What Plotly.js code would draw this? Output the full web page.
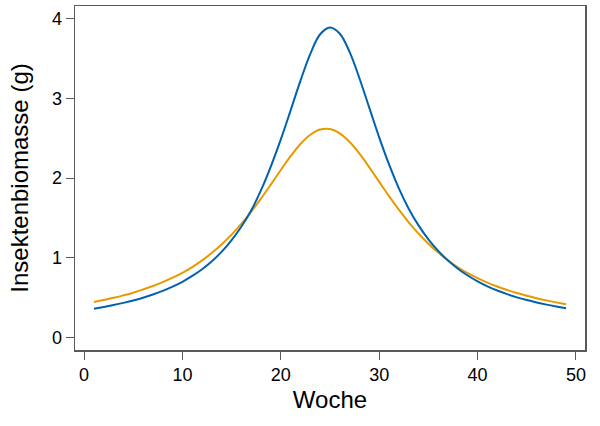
<!DOCTYPE html>
<html>
<head>
<meta charset="utf-8">
<script src="https://cdn.plot.ly/plotly-3.0.1.min.js"></script>
<style>
html,body{margin:0;padding:0;background:#fff;}
#chart{width:600px;height:426px;}
</style>
</head>
<body>
<div id="chart"></div>
<script>
const weeks = [1,2,3,4,5,6,7,8,9,10,11,12,13,14,15,16,17,18,19,20,21,22,23,24,25,26,27,28,29,30,31,32,33,34,35,36,37,38,39,40,41,42,43,44,45,46,47,48,49];

const blueBiomass = [0.358,0.381,0.405,0.432,0.462,0.497,0.537,0.583,0.636,0.697,0.770,0.855,0.955,1.075,1.220,1.390,1.595,1.850,2.150,2.485,2.850,3.222,3.560,3.805,3.890,3.812,3.580,3.250,2.880,2.510,2.170,1.870,1.615,1.405,1.230,1.085,0.963,0.861,0.776,0.702,0.640,0.587,0.541,0.501,0.467,0.437,0.410,0.386,0.364];

const orangeBiomass = [0.444,0.468,0.495,0.526,0.560,0.600,0.643,0.692,0.748,0.810,0.882,0.965,1.060,1.168,1.289,1.426,1.578,1.744,1.920,2.100,2.274,2.427,2.543,2.609,2.615,2.561,2.452,2.305,2.133,1.952,1.772,1.602,1.444,1.302,1.175,1.063,0.964,0.879,0.805,0.742,0.686,0.637,0.594,0.556,0.522,0.491,0.463,0.438,0.414];

const xTicks = [0,10,20,30,40,50];
const yTicks = [0,1,2,3,4];

const traces = [
  {x: weeks, y: orangeBiomass, type: 'scatter', mode: 'lines',
   line: {color: '#E69A00', width: 2, shape: 'spline', smoothing: 1}, hoverinfo: 'skip'},
  {x: weeks, y: blueBiomass, type: 'scatter', mode: 'lines',
   line: {color: '#0062AE', width: 2, shape: 'spline', smoothing: 1}, hoverinfo: 'skip'}
];

const axisColor = '#5a5a5a';
const fontFam = '"Liberation Sans", Arial, Helvetica, sans-serif';

const layout = {
  width: 600, height: 426,
  margin: {l: 75, r: 15, t: 6, b: 76},
  paper_bgcolor: '#fff', plot_bgcolor: '#fff',
  showlegend: false,
  font: {family: fontFam, color: '#000'},
  xaxis: {
    range: [-0.92, 50.92], tickvals: xTicks, ticktext: xTicks.map(String),
    ticks: 'outside', ticklen: 8, tickwidth: 1, tickcolor: axisColor,
    showline: true, linecolor: axisColor, linewidth: 1.5, mirror: true,
    showgrid: false, zeroline: false,
    tickfont: {size: 18, family: fontFam, color: '#000'},
    title: {text: 'Woche', font: {size: 24, family: fontFam, color: '#000'}, standoff: 7},
    automargin: false
  },
  yaxis: {
    range: [-0.16, 4.16], tickvals: yTicks, ticktext: yTicks.map(String),
    ticks: 'outside', ticklen: 8, tickwidth: 1, tickcolor: axisColor,
    showline: true, linecolor: axisColor, linewidth: 1.5, mirror: true,
    showgrid: false, zeroline: false,
    tickfont: {size: 18, family: fontFam, color: '#000'},
    title: {text: 'Insektenbiomasse (g)', font: {size: 24, family: fontFam, color: '#000'}, standoff: 16},
    automargin: false
  }
};

Plotly.newPlot('chart', traces, layout, {displayModeBar: false, staticPlot: true});
</script>
</body>
</html>
